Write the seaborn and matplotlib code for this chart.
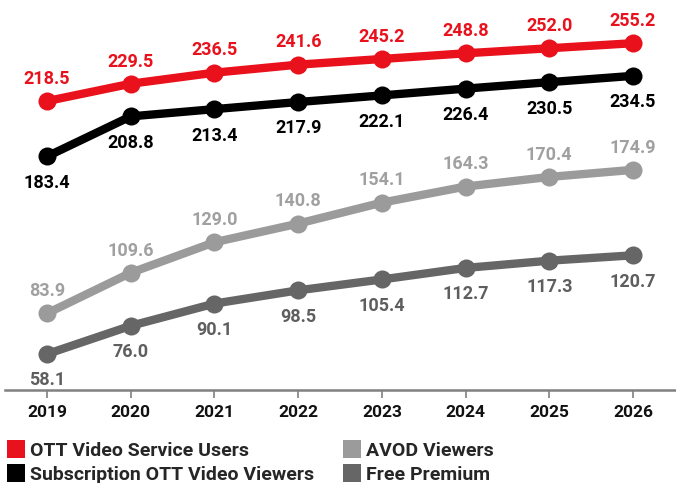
import matplotlib
matplotlib.use("Agg")
import matplotlib.pyplot as plt
from matplotlib.lines import Line2D
import seaborn as sns
import pandas as pd

years = [2019, 2020, 2021, 2022, 2023, 2024, 2025, 2026]
ott_users = [218.5, 229.5, 236.5, 241.6, 245.2, 248.8, 252.0, 255.2]
subscription_viewers = [183.4, 208.8, 213.4, 217.9, 222.1, 226.4, 230.5, 234.5]
avod_viewers = [83.9, 109.6, 129.0, 140.8, 154.1, 164.3, 170.4, 174.9]
free_premium = [58.1, 76.0, 90.1, 98.5, 105.4, 112.7, 117.3, 120.7]

series_names = ["OTT Video Service Users", "Subscription OTT Video Viewers",
                "AVOD Viewers", "Free Premium"]
series_values = [ott_users, subscription_viewers, avod_viewers, free_premium]
line_colors = ["#E8111C", "#000000", "#9B9B9B", "#666666"]
label_colors = ["#E8111C", "#000000", "#A0A0A0", "#5E5E5E"]
label_above = [True, False, True, False]

df = pd.DataFrame({
    "year": years * len(series_names),
    "value": [v for vals in series_values for v in vals],
    "series": [n for n in series_names for _ in years],
})

sns.set_theme(style="white")
plt.rcParams["font.family"] = ["Roboto", "DejaVu Sans"]

fig = plt.figure(figsize=(6.76, 4.83), dpi=100)
ax = fig.add_axes([5 / 676, 93 / 483, 671 / 676, 390 / 483])

palette = dict(zip(series_names, line_colors))
sns.lineplot(data=df, x="year", y="value", hue="series", palette=palette,
             hue_order=series_names, marker="o", markersize=13,
             markeredgewidth=0, linewidth=6, legend=False, ax=ax)

for vals, color, above in zip(series_values, label_colors, label_above):
    for x, v in zip(years, vals):
        ax.annotate(f"{v:.1f}", (x, v), xytext=(0, 16 if above else -19),
                    textcoords="offset points", ha="center", va="center",
                    fontsize=13, fontweight="bold", color=color)

ax.set_xlim(2018.498, 2026.514)
ax.set_ylim(35.3, 282.6)
ax.set_xticks(years)
ax.set_xticklabels([str(y) for y in years], fontsize=12.5, fontweight="bold",
                   color="#111111")
ax.set_yticks([])
ax.set_xlabel("")
ax.set_ylabel("")
for side in ["top", "right", "left"]:
    ax.spines[side].set_visible(False)
ax.spines["bottom"].set_color("#808080")
ax.spines["bottom"].set_linewidth(1.8)
ax.tick_params(axis="x", direction="out", length=6, width=1.2,
               color="#808080", pad=5, bottom=True)

# Two legend columns, each placed on its own
handles = [Line2D([0], [0], marker="s", linestyle="none", markersize=13,
                  markerfacecolor=c, markeredgewidth=0) for c in line_colors]
legend_kw = dict(loc="upper left", frameon=False, handlelength=1.0,
                 handletextpad=0.25, labelspacing=0.3, borderaxespad=0,
                 borderpad=0.3, prop={"weight": "semibold", "size": 14})
leg1 = fig.legend(handles[:2], series_names[:2],
                  bbox_to_anchor=(0.0, 1 - 436 / 483), **legend_kw)
leg2 = fig.legend(handles[2:], series_names[2:],
                  bbox_to_anchor=(336 / 676, 1 - 436 / 483), **legend_kw)

fig.savefig("out.png", dpi=100)
